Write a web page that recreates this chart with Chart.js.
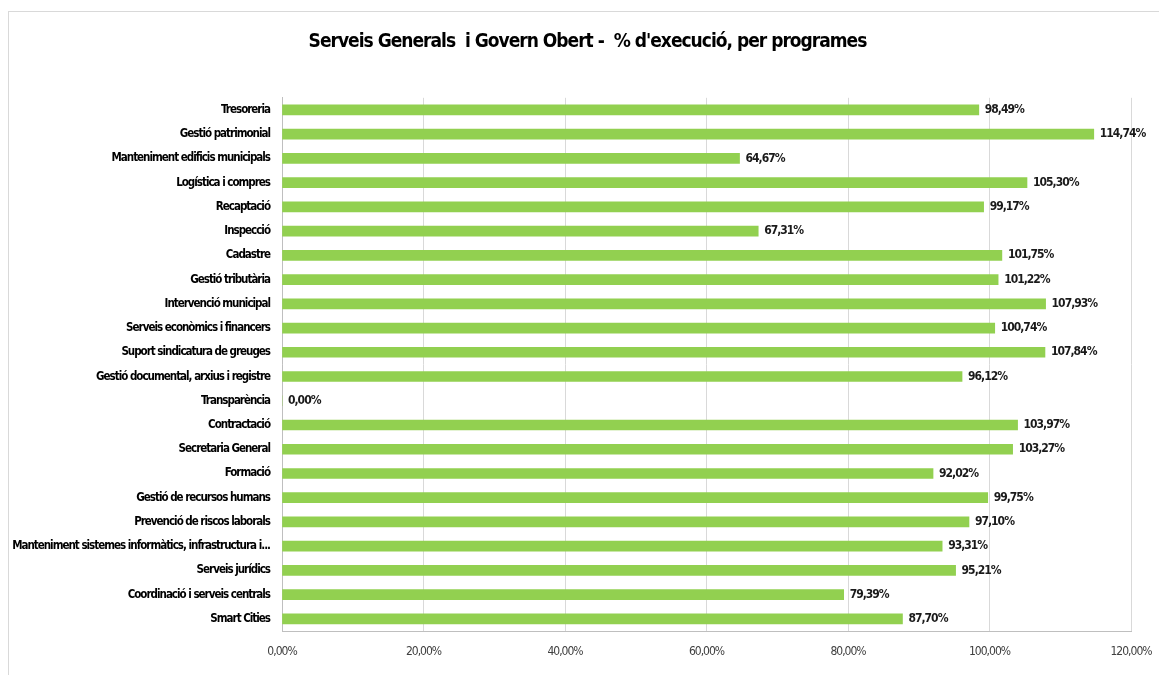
<!DOCTYPE html>
<html>
<head>
<meta charset="utf-8">
<script src="https://cdn.jsdelivr.net/npm/chart.js@4/dist/chart.umd.min.js"></script>
<style>
  html, body { margin: 0; padding: 0; background: #fff; }
  #wrap { width: 1159px; height: 675px; }
</style>
</head>
<body>
<div id="wrap"><canvas id="chart" width="1159" height="675"></canvas></div>
<script>
const titleText = "Serveis Generals  i Govern Obert -  % d'execució, per programes";

const programes = [
  'Tresoreria',
  'Gestió patrimonial',
  'Manteniment edificis municipals',
  'Logística i compres',
  'Recaptació',
  'Inspecció',
  'Cadastre',
  'Gestió tributària',
  'Intervenció municipal',
  'Serveis econòmics i financers',
  'Suport sindicatura de greuges',
  'Gestió documental, arxius i registre',
  'Transparència',
  'Contractació',
  'Secretaria General',
  'Formació',
  'Gestió de recursos humans',
  'Prevenció de riscos laborals',
  'Manteniment sistemes informàtics, infrastructura i...',
  'Serveis jurídics',
  'Coordinació i serveis centrals',
  'Smart Cities'
];

const execucio = [
  98.49, 114.74, 64.67, 105.30, 99.17, 67.31, 101.75, 101.22, 107.93, 100.74, 107.84,
  96.12, 0.00, 103.97, 103.27, 92.02, 99.75, 97.10, 93.31, 95.21, 79.39, 87.70
];

const axisMin = 0;
const axisMax = 120;
const axisStep = 20;

const FONT = "'DejaVu Sans Condensed', 'DejaVu Sans', sans-serif";
const TIGHT = '-1px';   // the original uses a very narrow face

function pct(v) {
  return v.toFixed(2).replace('.', ',') + '%';
}

// narrow letter spacing + light outer frame of the chart object
const framePlugin = {
  id: 'frame',
  beforeUpdate(chart) {
    chart.ctx.letterSpacing = TIGHT;
  },
  afterLayout(chart) {
    // title sits a little right of the canvas centre in the original
    if (chart.titleBlock) chart.titleBlock.left += 44;
  },
  beforeDraw(chart) {
    const ctx = chart.ctx;
    ctx.letterSpacing = TIGHT;
    ctx.save();
    ctx.fillStyle = '#ffffff';
    ctx.fillRect(0, 0, chart.width, chart.height);
    ctx.strokeStyle = '#d9d9d9';
    ctx.lineWidth = 1;
    ctx.strokeRect(8.5, 11.5, chart.width + 20, chart.height + 20);
    ctx.restore();
  }
};

// value labels at the end of each bar
const valueLabels = {
  id: 'valueLabels',
  afterDatasetsDraw(chart) {
    const ctx = chart.ctx;
    const meta = chart.getDatasetMeta(0);
    ctx.save();
    ctx.font = 'bold 12px ' + FONT;
    ctx.fillStyle = '#1a1a1a';
    ctx.textAlign = 'left';
    ctx.textBaseline = 'middle';
    meta.data.forEach((bar, i) => {
      ctx.fillText(pct(execucio[i]), bar.x + 6, bar.y);
    });
    ctx.restore();
  }
};

new Chart(document.getElementById('chart'), {
  type: 'bar',
  data: {
    labels: programes,
    datasets: [{
      data: execucio,
      backgroundColor: '#92d050',
      barThickness: 10
    }]
  },
  options: {
    indexAxis: 'y',
    responsive: false,
    animation: false,
    layout: { padding: { left: 0, right: 28, top: 0, bottom: 0 } },
    plugins: {
      legend: { display: false },
      tooltip: { enabled: false },
      title: {
        display: true,
        text: titleText,
        color: '#000000',
        font: { family: FONT, size: 19, weight: 'bold' },
        padding: { top: 31, bottom: 44 }
      }
    },
    scales: {
      x: {
        min: axisMin,
        max: axisMax,
        ticks: {
          stepSize: axisStep,
          color: '#404040',
          font: { family: FONT, size: 12 },
          padding: 14,
          callback: v => pct(v)
        },
        grid: { color: '#d9d9d9', drawTicks: false },
        border: { color: '#bfbfbf' },
        afterFit(scale) {
          scale.height = 44;
          scale.paddingLeft = 0;
          scale.paddingRight = 0;
        }
      },
      y: {
        ticks: {
          color: '#000000',
          font: { family: FONT, size: 11.5, weight: 'bold' },
          padding: 12,
          autoSkip: false
        },
        grid: { display: false, drawTicks: false },
        border: { color: '#bfbfbf' },
        afterFit(scale) { scale.width = 282; }
      }
    }
  },
  plugins: [framePlugin, valueLabels]
});
</script>
</body>
</html>
